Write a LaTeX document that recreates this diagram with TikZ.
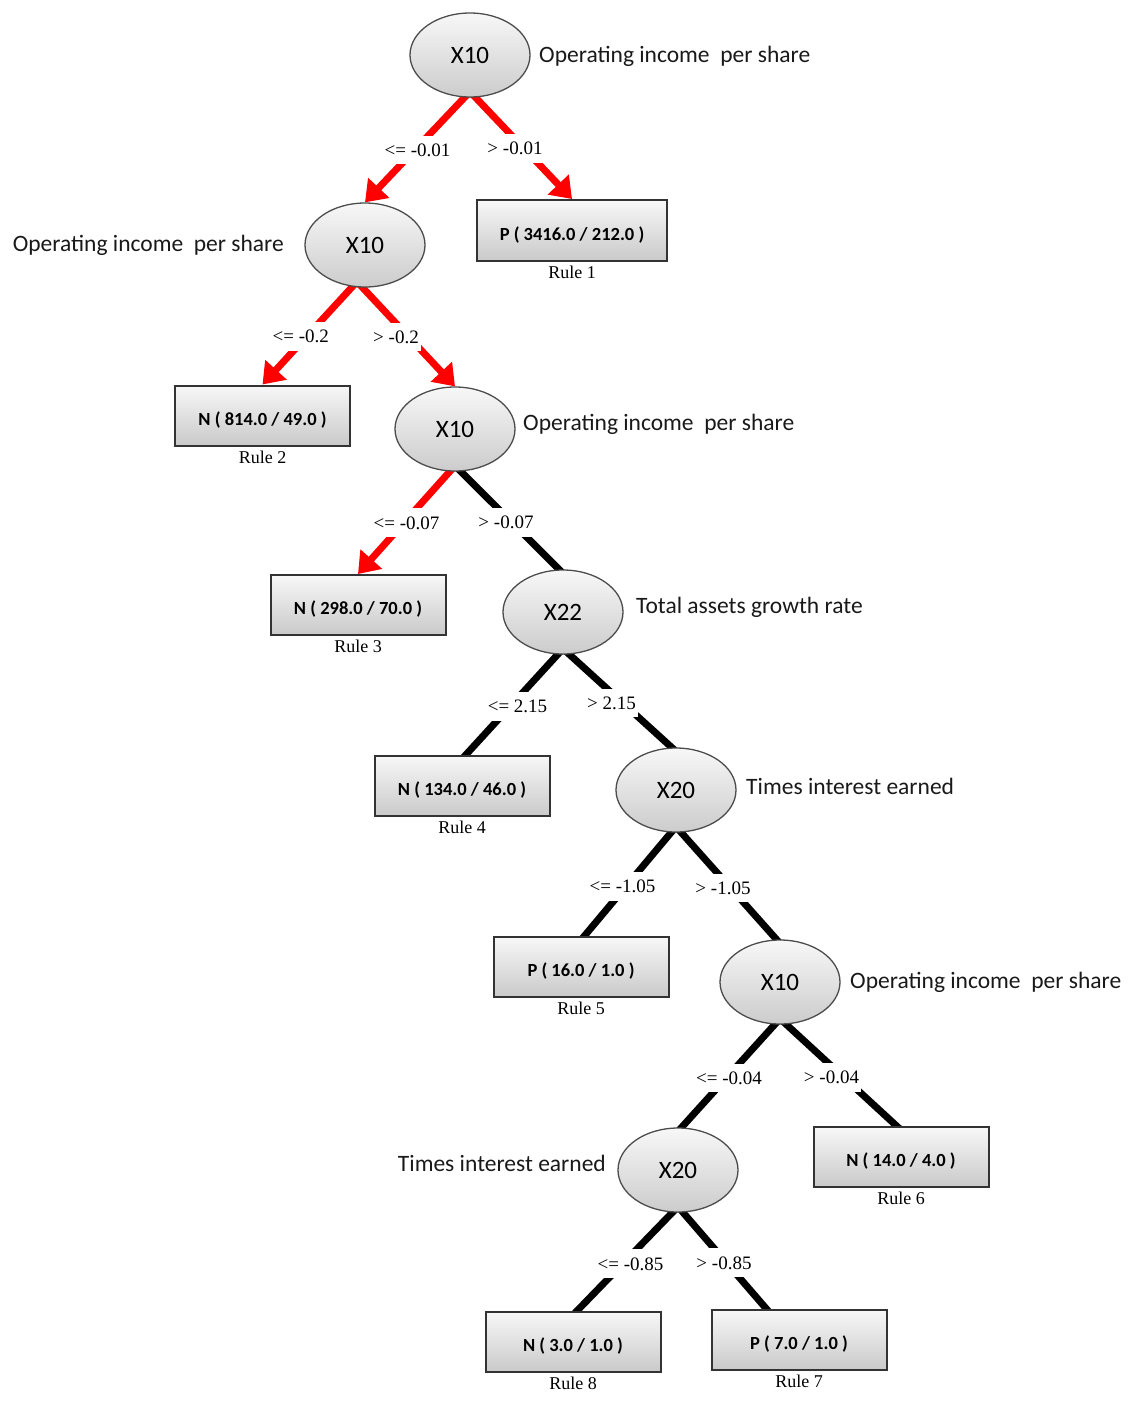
\documentclass[tikz,border=0pt]{standalone}
\usepackage{fontspec}
\setmainfont{Liberation Serif}
\newfontfamily\calfont{Carlito}
\usetikzlibrary{arrows.meta,backgrounds,shapes.geometric}
\begin{document}
\begin{tikzpicture}[x=1pt,y=-1pt,
  var/.style={ellipse, draw=black!70, line width=1.3pt, top color=gray!6, bottom color=gray!40, minimum width=120pt, minimum height=84pt, inner sep=0pt, font=\calfont\fontsize{25}{28}\selectfont},
  leaf/.style={rectangle, draw=black!80, line width=2pt, top color=gray!6, bottom color=gray!42, minimum width=175pt, minimum height=60pt, inner sep=0pt, text height=23pt, text depth=4pt, font=\calfont\bfseries\fontsize{18.5}{20}\selectfont},
  desc/.style={inner sep=0pt, text height=16pt, text depth=5pt, font=\calfont\fontsize{23.5}{26}\selectfont, text=black!90},
  rulel/.style={inner sep=0pt, anchor=north, font=\fontsize{18}{20}\selectfont},
  cond/.style={fill=white, inner xsep=2pt, inner ysep=8pt, yshift=-3pt, font=\fontsize{19}{21}\selectfont},
  redarr/.style={draw=red, line width=7pt, -{Triangle[length=20pt,width=28pt]}},
  blk/.style={draw=black, line width=7pt},
]
\useasboundingbox (0,0) rectangle (1132,1403);

% decision nodes
\node[var] (x1) at (470,55) {X10};
\node[var] (x2) at (365,245) {X10};
\node[var] (x3) at (455,429) {X10};
\node[var] (x4) at (563,612) {X22};
\node[var] (x5) at (676,790) {X20};
\node[var] (x6) at (780,982) {X10};
\node[var] (x7) at (678,1170) {X20};

% descriptions
\node[desc, anchor=west] (d1) at (539,57) {Operating income~~per share};
\node[desc, anchor=east] (d2) at (284,246) {Operating income~~per share};
\node[desc, anchor=west] (d3) at (523,425) {Operating income~~per share};
\node[desc, anchor=west] (d4) at (636,608) {Total assets growth rate};
\node[desc, anchor=west] (d5) at (746,789) {Times interest earned};
\node[desc, anchor=west] (d6) at (850,983) {Operating income~~per share};
\node[desc, anchor=east] (d7) at (606,1166) {Times interest earned};

% leaves
\node[leaf, minimum width=190pt, minimum height=61pt] (r1) at (572,230.5) {P ( 3416.0 / 212.0 )};
\node[leaf] (r2) at (262.5,415.5) {N ( 814.0 / 49.0 )};
\node[leaf] (r3) at (358,605) {N ( 298.0 / 70.0 )};
\node[leaf] (r4) at (462,786) {N ( 134.0 / 46.0 )};
\node[leaf] (r5) at (581,967) {P ( 16.0 / 1.0 )};
\node[leaf] (r6) at (901,1157) {N ( 14.0 / 4.0 )};
\node[leaf] (r8) at (573,1342) {N ( 3.0 / 1.0 )};
\node[leaf] (r7) at (799,1340) {P ( 7.0 / 1.0 )};

% rule labels
\node[rulel] (l1) at ([yshift=-4pt]r1.south) {Rule 1};
\node[rulel] (l2) at ([yshift=-4pt]r2.south) {Rule 2};
\node[rulel] (l3) at ([yshift=-4pt]r3.south) {Rule 3};
\node[rulel] (l4) at ([yshift=-4pt]r4.south) {Rule 4};
\node[rulel] (l5) at ([yshift=-4pt]r5.south) {Rule 5};
\node[rulel] (l6) at ([yshift=-4pt]r6.south) {Rule 6};
\node[rulel] (l8) at ([yshift=-4pt]r8.south) {Rule 8};
\node[rulel] (l7) at ([yshift=-4pt]r7.south) {Rule 7};

% connectors
\begin{scope}[on background layer]
\draw[redarr] ([yshift=6pt]x1.south) -- node[cond] {<= -0.01} (x2.north);
\draw[redarr] ([yshift=6pt]x1.south) -- node[cond, xshift=-6pt] {> -0.01} (r1.north);
\draw[redarr] ([xshift=-8pt,yshift=6pt]x2.south) -- node[cond, xshift=-9pt] {<= -0.2} (r2.north);
\draw[redarr] ([xshift=-8pt,yshift=6pt]x2.south) -- node[cond, xshift=-10pt] {> -0.2} (x3.north);
\draw[redarr] ([yshift=6pt]x3.south) -- node[cond] {<= -0.07} (r3.north);
\draw[blk] ([yshift=6pt]x3.south) -- node[cond, xshift=-3pt] {> -0.07} ([yshift=-4pt]x4.north);
\draw[blk] ([yshift=6pt]x4.south) -- node[cond, xshift=5pt] {<= 2.15} ([yshift=-4pt]r4.north);
\draw[blk] ([yshift=6pt]x4.south) -- node[cond, xshift=-8pt] {> 2.15} ([yshift=-4pt]x5.north);
\draw[blk] ([yshift=6pt]x5.south) -- node[cond, xshift=-6pt] {<= -1.05} ([yshift=-4pt]r5.north);
\draw[blk] ([yshift=6pt]x5.south) -- node[cond, xshift=-5pt] {> -1.05} ([yshift=-4pt]x6.north);
\draw[blk] ([yshift=6pt]x6.south) -- node[cond] {<= -0.04} ([yshift=-4pt]x7.north);
\draw[blk] ([yshift=6pt]x6.south) -- node[cond, xshift=-9pt] {> -0.04} ([yshift=-4pt]r6.north);
\draw[blk] ([yshift=6pt]x7.south) -- node[cond, xshift=5pt] {<= -0.85} ([yshift=-4pt]r8.north);
\draw[blk] ([yshift=6pt]x7.south) -- node[cond] {> -0.85} ([xshift=-29pt,yshift=-4pt]r7.north);
\end{scope}
\end{tikzpicture}
\end{document}
